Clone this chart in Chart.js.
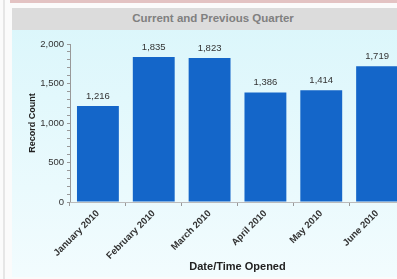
<!DOCTYPE html>
<html>
<head>
<meta charset="utf-8">
<script src="https://cdn.jsdelivr.net/npm/chart.js@4"></script>
<style>
  html, body { margin: 0; padding: 0; width: 397px; height: 279px; overflow: hidden; background: #fbfbfb; font-family: "Liberation Sans", Arial, sans-serif; }
  #topline { position: absolute; left: 10px; top: 0; width: 400px; height: 3px; background: #e3c3c3; }
  #leftline { position: absolute; left: 3px; top: 0; width: 2px; height: 279px; background: #e6e6e6; }
  #panel { position: absolute; left: 12px; top: 8px; width: 402px; height: 269px; background: linear-gradient(#daf6fb, #f2fcfe); }
  #header { height: 22px; line-height: 21px; background: #dcdcdc; color: #808080; font-size: 11.5px; font-weight: bold; text-align: center; }
  #wrap { position: relative; width: 402px; height: 247px; }
</style>
</head>
<body>
<div id="leftline"></div>
<div id="topline"></div>
<div id="panel">
  <div id="header">Current and Previous Quarter</div>
  <div id="wrap"><canvas id="quarterChart"></canvas></div>
</div>
<script>
// Registros por mês (trimestre atual e anterior)
const months = ['January 2010', 'February 2010', 'March 2010', 'April 2010', 'May 2010', 'June 2010'];
const recordCounts = [1216, 1835, 1823, 1386, 1414, 1719];
const yTickLabels = [0, 500, 1000, 1500, 2000];

const FONT = '"Liberation Sans", Arial, sans-serif';

const barLabels = {
    id: 'barLabels',
    afterDatasetsDraw(chart) {
        const c = chart.ctx;
        const meta = chart.getDatasetMeta(0);
        c.save();
        c.font = '9.5px ' + FONT;
        c.fillStyle = '#333';
        c.textAlign = 'center';
        c.textBaseline = 'bottom';
        meta.data.forEach((bar, i) => {
            c.fillText(recordCounts[i].toLocaleString('en-US'), bar.x, bar.y - 5);
        });
        c.restore();
    }
};

const ctx = document.getElementById('quarterChart').getContext('2d');
const quarterChart = new Chart(ctx, {
    type: 'bar',
    data: {
        labels: months,
        datasets: [{
            data: recordCounts,
            backgroundColor: '#1466c9',
            borderWidth: 0,
            categoryPercentage: 1,
            barPercentage: 0.75
        }]
    },
    options: {
        responsive: true,
        maintainAspectRatio: false,
        animation: false,
        layout: { padding: { top: 14, right: 9, left: 0, bottom: 0 } },
        plugins: {
            legend: { display: false },
            tooltip: { enabled: false }
        },
        scales: {
            y: {
                min: 0,
                max: 2000,
                afterFit(scale) { scale.width = 58; },
                ticks: {
                    stepSize: 100,
                    autoSkip: false,
                    color: '#333',
                    font: { size: 9.5, family: FONT },
                    padding: 3,
                    callback: v => yTickLabels.includes(v) ? v.toLocaleString('en-US') : ''
                },
                grid: {
                    drawOnChartArea: false,
                    tickLength: 3,
                    color: '#999'
                },
                border: { color: '#999' },
                title: {
                    display: true,
                    text: 'Record Count',
                    color: '#222',
                    font: { size: 9, weight: 'bold', family: FONT },
                    padding: { top: 15, bottom: 0 }
                }
            },
            x: {
                afterFit(scale) { scale.height = 75; },
                ticks: {
                    minRotation: 45,
                    maxRotation: 45,
                    color: '#333',
                    font: { size: 9.5, weight: 'bold', family: FONT },
                    padding: 2
                },
                grid: {
                    drawOnChartArea: false,
                    tickLength: 4,
                    color: '#999'
                },
                border: { color: '#bbb' },
                title: {
                    display: true,
                    text: 'Date/Time Opened',
                    color: '#222',
                    font: { size: 11, weight: 'bold', family: FONT },
                    padding: { top: 0, bottom: 3 }
                }
            }
        }
    },
    plugins: [barLabels]
});
</script>
</body>
</html>
